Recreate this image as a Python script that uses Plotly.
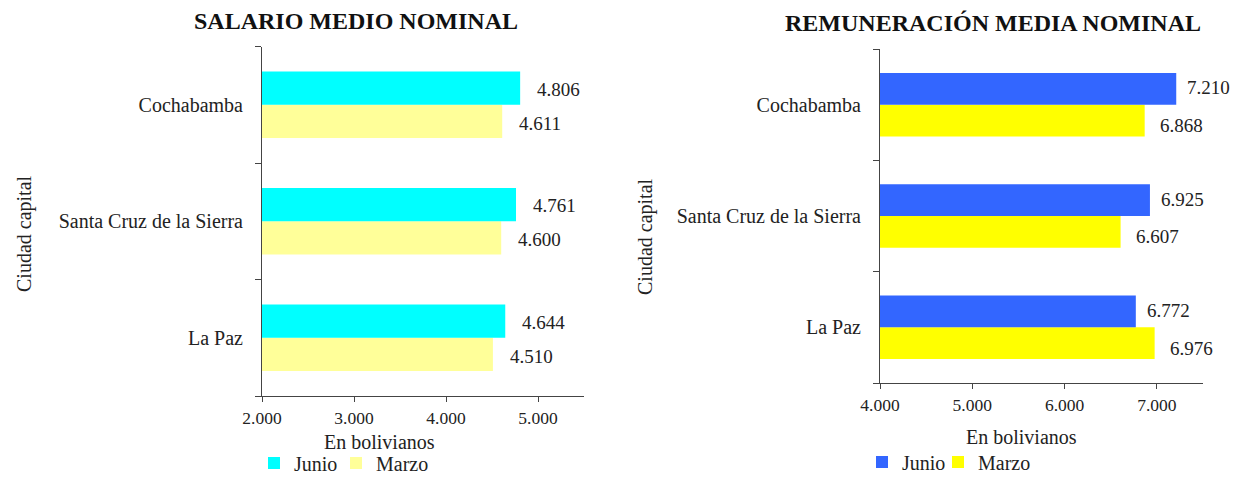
import plotly.graph_objects as go

# ---------------- data ----------------
ciudades = ["Cochabamba", "Santa Cruz de la Sierra", "La Paz"]
salario_junio = [4806, 4761, 4644]
salario_marzo = [4611, 4600, 4510]
remun_junio = [7210, 6925, 6772]
remun_marzo = [6868, 6607, 6976]
ticks_salario = [2000, 3000, 4000, 5000]
ticks_remun = [4000, 5000, 6000, 7000]
titulo_izq = "SALARIO MEDIO NOMINAL"
titulo_der = "REMUNERACIÓN MEDIA NOMINAL"
eje_x = "En bolivianos"
eje_y = "Ciudad capital"

# ---------------- style ----------------
W, H = 1233, 477
FONT = "Liberation Serif"
TXT = "#222222"
AX = "#444444"
BARGAP = 0.43
C_SAL_J, C_SAL_M = "#00FFFF", "#FFFF99"
C_REM_J, C_REM_M = "#3366FF", "#FFFF00"


def px_x(p):
    return p / W


def px_y(p):
    return 1 - p / H


order = ciudades[::-1]  # bottom -> top

fig = go.Figure()
# Marzo first so it sits at the bottom of each group
fig.add_trace(go.Bar(y=ciudades, x=salario_marzo, orientation="h", name="Marzo",
                     marker=dict(color=C_SAL_M, line=dict(width=0)),
                     xaxis="x", yaxis="y", legend="legend2"))
fig.add_trace(go.Bar(y=ciudades, x=salario_junio, orientation="h", name="Junio",
                     marker=dict(color=C_SAL_J, line=dict(width=0)),
                     xaxis="x", yaxis="y", legend="legend"))
fig.add_trace(go.Bar(y=ciudades, x=remun_marzo, orientation="h", name="Marzo",
                     marker=dict(color=C_REM_M, line=dict(width=0)),
                     xaxis="x2", yaxis="y2", legend="legend4"))
fig.add_trace(go.Bar(y=ciudades, x=remun_junio, orientation="h", name="Junio",
                     marker=dict(color=C_REM_J, line=dict(width=0)),
                     xaxis="x2", yaxis="y2", legend="legend3"))

half = (1 - BARGAP) / 4  # center offset of each bar within group


def fmt(v):
    return f"{v:,}".replace(",", ".")


annotations = []


def add_labels(values, xref, yref, upper, dx, dy):
    for c, v in zip(ciudades, values):
        idx = order.index(c)
        yv = idx + half if upper else idx - half
        annotations.append(dict(x=v, y=yv, xref=xref, yref=yref, text=fmt(v),
                                showarrow=False, xanchor="left", yanchor="middle",
                                xshift=dx, yshift=dy,
                                font=dict(family=FONT, size=19, color=TXT)))


add_labels(salario_junio, "x", "y", True, 15, -1)
add_labels(salario_marzo, "x", "y", False, 15, -2)
add_labels(remun_junio, "x2", "y2", True, 9, 1)
add_labels(remun_marzo, "x2", "y2", False, 13, -5)

# titles
annotations.append(dict(x=px_x(356), y=px_y(20.5), xref="paper", yref="paper", text=f"<b>{titulo_izq}</b>",
                        showarrow=False, xanchor="center", yanchor="middle",
                        font=dict(family=FONT, size=24, color="#111111")))
annotations.append(dict(x=px_x(993), y=px_y(23), xref="paper", yref="paper", text=f"<b>{titulo_der}</b>",
                        showarrow=False, xanchor="center", yanchor="middle",
                        font=dict(family=FONT, size=24, color="#111111")))
# axis titles
for xx, yy in [(380, 442), (1022, 437)]:
    annotations.append(dict(x=px_x(xx), y=px_y(yy), xref="paper", yref="paper", text=eje_x,
                            showarrow=False, xanchor="center", yanchor="middle",
                            font=dict(family=FONT, size=20, color=TXT)))
for xx, yy in [(24, 234), (646, 236)]:
    annotations.append(dict(x=px_x(xx), y=px_y(yy), xref="paper", yref="paper", text=eje_y,
                            showarrow=False, xanchor="center", yanchor="middle", textangle=-90,
                            font=dict(family=FONT, size=20, color=TXT)))

yax_common = dict(type="category", categoryorder="array", categoryarray=order,
                  showline=True, linecolor=AX, linewidth=1, ticks="outside", tickson="boundaries",
                  ticklen=6, tickcolor=AX, showgrid=False, zeroline=False, automargin=False,
                  tickfont=dict(family=FONT, size=20, color=TXT), ticklabelstandoff=14)
xax_common = dict(showline=True, linecolor=AX, linewidth=1, ticks="outside", ticklen=5, tickcolor=AX,
                  showgrid=False, zeroline=False, tickformat=",d", automargin=False,
                  tickfont=dict(family=FONT, size=17.5, color=TXT), ticklabelstandoff=1)


def leg(xpx, ypx):
    return dict(orientation="h", x=px_x(xpx), y=px_y(ypx), xanchor="left", yanchor="middle",
                font=dict(family=FONT, size=20, color=TXT), itemwidth=30,
                bgcolor="rgba(0,0,0,0)")


fig.update_layout(
    width=W, height=H, margin=dict(l=0, r=0, t=0, b=0, autoexpand=False),
    paper_bgcolor="white", plot_bgcolor="white",
    separators=",.", barmode="group", bargap=BARGAP, bargroupgap=0,
    font=dict(family=FONT, size=20, color=TXT),
    xaxis=dict(domain=[px_x(262), px_x(584)], range=[2000, 5500], tickvals=ticks_salario,
               anchor="y", **xax_common),
    yaxis=dict(domain=[px_y(396), px_y(46.5)], anchor="x", **yax_common),
    xaxis2=dict(domain=[px_x(880), px_x(1203)], range=[4000, 7500], tickvals=ticks_remun,
                anchor="y2", **xax_common),
    yaxis2=dict(domain=[px_y(383), px_y(49)], anchor="x2", **yax_common),
    legend=leg(254, 463),
    legend2=leg(336, 463),
    legend3=leg(862, 462),
    legend4=leg(938, 462),
    annotations=annotations,
    showlegend=True,
)

fig.write_html("out.html", config={"displayModeBar": False},
               post_script="document.body.style.margin='0';document.body.style.overflow='hidden';")
